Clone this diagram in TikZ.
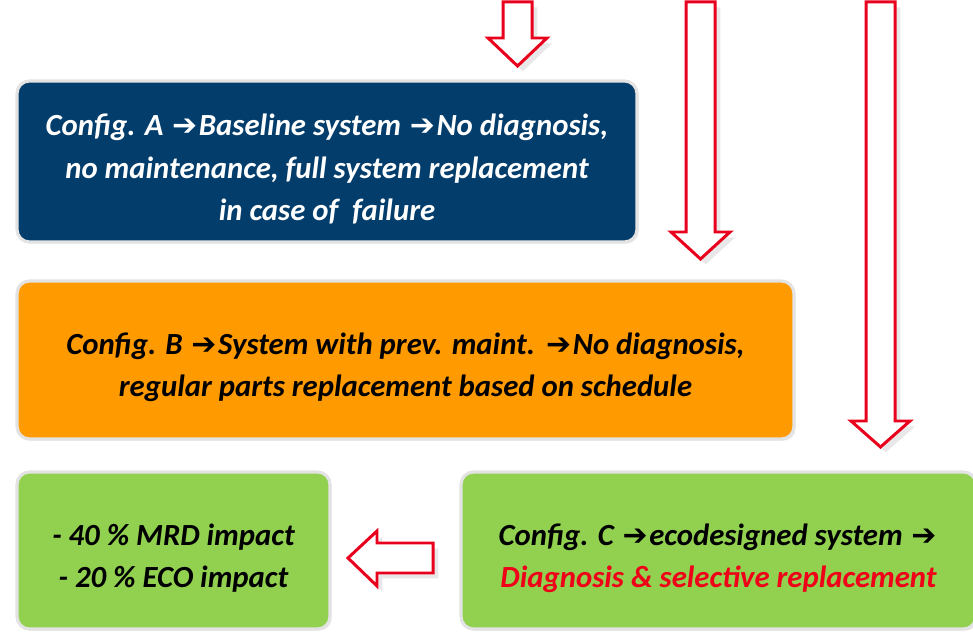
\documentclass[tikz,border=0pt]{standalone}
\usepackage{fontspec}
\setmainfont{Carlito}
\newfontfamily\arrowfont{DejaVu Sans}
\usetikzlibrary{shadows}

\definecolor{cfgblue}{HTML}{033D6C}
\definecolor{cfgorange}{HTML}{FF9A00}
\definecolor{cfggreen}{HTML}{92D050}
\definecolor{arrowred}{HTML}{E8001C}
\definecolor{txtred}{HTML}{F00018}

\newcommand{\goto}{{\arrowfont\bfseries\upshape\fontsize{17}{24}\selectfont\kern1pt➔\kern1pt}}
\newcommand{\lowerby}{\rule{0pt}{21pt}}

\tikzset{
    cfgbox/.style={rounded corners=7pt, draw=gray!22, line width=1.8pt, align=center,
        inner sep=0pt, font=\fontsize{17.5}{24}\selectfont\bfseries\itshape,
        drop shadow={opacity=0.15, shadow xshift=1pt, shadow yshift=-1pt}},
    blockarrow/.style={draw=arrowred, fill=white, line width=1.7pt, line join=miter,
        drop shadow={opacity=0.18, shadow xshift=3pt, shadow yshift=-3pt}}
}

\begin{document}
\begin{tikzpicture}[x=0.02cm, y=-0.02cm]

        \useasboundingbox (0,0) rectangle (973,634);

        % Configuration boxes
        \node[cfgbox, fill=cfgblue, text=white, minimum width=12.4cm, minimum height=3.22cm]
            (cfgA) at (327,161.5) {\lowerby Config. A \goto Baseline system \goto No diagnosis,\\
            no maintenance, full system replacement\\ in case of \ failure};
        \node[cfgbox, fill=cfgorange, text=black, minimum width=15.54cm, minimum height=3.16cm]
            (cfgB) at (405.5,360) {\lowerby Config. B \goto System with prev. maint. \goto No diagnosis,\\
            regular parts replacement based on schedule};
        \node[cfgbox, fill=cfggreen, text=black, minimum width=6.26cm, minimum height=3.14cm]
            (result) at (173.5,550.5) {\lowerby - 40 \% MRD impact\\ - 20 \% ECO impact};
        \node[cfgbox, fill=cfggreen, text=black, minimum width=10.3cm, minimum height=3.14cm]
            (cfgC) at (718.5,550.5) {\lowerby Config. C \goto ecodesigned system \goto\\
            \textcolor{txtred}{Diagnosis \& selective replacement}};

        % Down arrows
        \draw[blockarrow] (503,2) -- (532,2) -- (532,38) -- (547,38) -- (517.5,66)
            -- (488,38) -- (503,38) -- cycle;
        \draw[blockarrow] (686,2) -- (715,2) -- (715,232) -- (730,232) -- (700.5,259)
            -- (671,232) -- (686,232) -- cycle;
        \draw[blockarrow] (866,2) -- (895,2) -- (895,421) -- (910,421) -- (880.5,447)
            -- (851,421) -- (866,421) -- cycle;

        % Left arrow
        \draw[blockarrow] (433,543) -- (433,573) -- (377,573) -- (377,586) -- (348,558)
            -- (377,531) -- (377,543) -- cycle;

    \end{tikzpicture}
\end{document}
